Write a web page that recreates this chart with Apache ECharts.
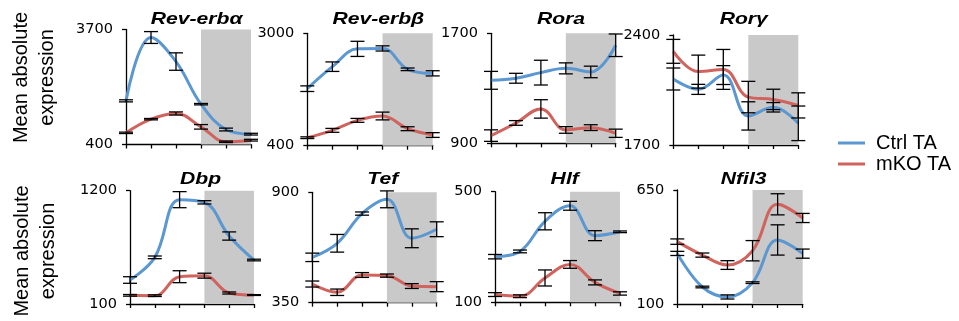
<!DOCTYPE html>
<html>
<head>
<meta charset="utf-8">
<script src="https://cdn.jsdelivr.net/npm/echarts@6/dist/echarts.min.js"></script>
<style>html,body{margin:0;padding:0;background:#fff}#c{width:959px;height:321px}</style>
</head>
<body>
<div id="c"></div>
<script>
// ---- data ----
const categories = ['1', '2', '3', '4', '5', '6'];
const genes = ['Rev-erbα', 'Rev-erbβ', 'Rora', 'Rorγ', 'Dbp', 'Tef', 'Hlf', 'Nfil3'];
const yMins = [400, 400, 900, 1700, 100, 350, 100, 100];
const yMaxs = [3700, 3000, 1700, 2400, 1200, 900, 500, 650];
const seriesNames = ['Ctrl TA', 'mKO TA'];
const shadeFrom = '4';
const shadeTo = '6';

const revErbaCtrl = [1653, 3470, 2780, 1557, 830, 697];
const revErbaCtrlErr = [30, 170, 250, 20, 40, 25];
const revErbaKO = [735, 1127, 1290, 907, 478, 524];
const revErbaKOErr = [20, 20, 45, 65, 20, 25];

const revErbbCtrl = [1719, 2228, 2640, 2650, 2167, 2074];
const revErbbCtrlErr = [65, 110, 175, 60, 30, 60];
const revErbbKO = [585, 755, 986, 1087, 793, 647];
const revErbbKOErr = [20, 45, 45, 90, 45, 55];

const roraCtrl = [1358, 1373, 1414, 1445, 1419, 1613];
const roraCtrlErr = [65, 36, 90, 40, 42, 82];
const roraKO = [956, 1048, 1150, 997, 1014, 973];
const roraKOErr = [42, 17, 67, 24, 21, 30];

const rorgCtrl = [2120, 2054, 2145, 1885, 1940, 1838];
const rorgCtrlErr = [70, 32, 60, 90, 30, 110];
const rorgKO = [2296, 2167, 2181, 2005, 1990, 1952];
const rorgKOErr = [76, 105, 127, 100, 65, 80];

const dbpCtrl = [333, 553, 1113, 1087, 760, 527];
const dbpCtrlErr = [32, 13, 78, 16, 40, 8];
const dbpKO = [184, 181, 365, 375, 207, 187];
const dbpKOErr = [8, 8, 58, 24, 10, 4];

const tefCtrl = [576, 646, 794, 865, 671, 716];
const tefCtrlErr = [21, 44, 8, 42, 47, 37];
const tefKO = [443, 402, 488, 485, 433, 430];
const tefKOErr = [15, 16, 12, 8, 12, 25];

const hlfCtrl = [265, 284, 393, 449, 341, 355];
const hlfCtrlErr = [8, 5, 31, 16, 18, 3];
const hlfKO = [128, 122, 188, 237, 172, 132];
const hlfKOErr = [7, 5, 29, 14, 9, 6];

const nfil3Ctrl = [344, 182, 134, 203, 409, 343];
const nfil3CtrlErr = [10, 4, 10, 4, 73, 22];
const nfil3KO = [401, 336, 288, 357, 581, 515];
const nfil3KOErr = [13, 10, 21, 49, 51, 22];

const ctrlMeans = [revErbaCtrl, revErbbCtrl, roraCtrl, rorgCtrl, dbpCtrl, tefCtrl, hlfCtrl, nfil3Ctrl];
const ctrlErrs = [revErbaCtrlErr, revErbbCtrlErr, roraCtrlErr, rorgCtrlErr, dbpCtrlErr, tefCtrlErr, hlfCtrlErr, nfil3CtrlErr];
const koMeans = [revErbaKO, revErbbKO, roraKO, rorgKO, dbpKO, tefKO, hlfKO, nfil3KO];
const koErrs = [revErbaKOErr, revErbbKOErr, roraKOErr, rorgKOErr, dbpKOErr, tefKOErr, hlfKOErr, nfil3KOErr];

// ---- layout / style ----
const gridBoxes = [
  [126, 29.5, 125, 115], [307.3, 33.3, 125.4, 112.4], [491, 33.3, 124.7, 110], [673.3, 35, 125, 110],
  [130, 190.7, 124, 113.3], [312.3, 192.3, 124.4, 110.4], [495, 191.7, 125, 110.6], [677.3, 190, 125.4, 114]
];
const titlePos = [[196.7, 19], [378.3, 19], [561, 19], [743.7, 19], [200.5, 179], [382.8, 179], [564.7, 179], [743.7, 179]];
const BLUE = '#5b97d1';
const RED = '#d0635d';
const SHADE = '#c9c9c9';

const grid = [], xAxis = [], yAxis = [], series = [], graphic = [];

function errRender(params, api) {
  const lo = api.coord([api.value(0), api.value(1)]);
  const hi = api.coord([api.value(0), api.value(2)]);
  const hw = 7;
  const st = { stroke: '#000', lineWidth: 1.3 };
  return {
    type: 'group',
    children: [
      { type: 'line', shape: { x1: lo[0], y1: lo[1], x2: hi[0], y2: hi[1] }, style: st },
      { type: 'line', shape: { x1: lo[0] - hw, y1: lo[1], x2: lo[0] + hw, y2: lo[1] }, style: st },
      { type: 'line', shape: { x1: hi[0] - hw, y1: hi[1], x2: hi[0] + hw, y2: hi[1] }, style: st }
    ]
  };
}

genes.forEach((g, i) => {
  const b = gridBoxes[i];
  grid.push({ left: b[0], top: b[1], width: b[2], height: b[3], containLabel: false });
  xAxis.push({
    type: 'category', gridIndex: i, data: categories, boundaryGap: false,
    axisLine: { lineStyle: { color: '#000', width: 1.3 } },
    axisTick: { show: true, length: 4, inside: false, lineStyle: { color: '#000', width: 1.3 } },
    axisLabel: { show: false }, splitLine: { show: false }
  });
  yAxis.push({
    type: 'value', gridIndex: i, min: yMins[i], max: yMaxs[i],
    axisLine: { show: true, lineStyle: { color: '#000', width: 1.3 } },
    axisTick: { show: true, length: 4, customValues: [yMins[i], yMaxs[i]], lineStyle: { color: '#000', width: 1.3 } },
    axisLabel: { show: true, customValues: [yMins[i], yMaxs[i]], formatter: v => String(v), margin: 13, color: '#000', fontSize: 14.5, fontFamily: 'DejaVu Sans' },
    splitLine: { show: false }
  });
  series.push({
    name: seriesNames[0], type: 'line', xAxisIndex: i, yAxisIndex: i, data: ctrlMeans[i],
    smooth: 0.4, symbol: 'none', color: BLUE, lineStyle: { width: 3, color: BLUE }, z: 3,
    markArea: { silent: true, itemStyle: { color: SHADE }, data: [[{ xAxis: shadeFrom }, { xAxis: shadeTo }]] }
  });
  series.push({
    name: seriesNames[1], type: 'line', xAxisIndex: i, yAxisIndex: i, data: koMeans[i],
    smooth: 0.4, symbol: 'none', color: RED, lineStyle: { width: 3, color: RED }, z: 3
  });
  [[ctrlMeans[i], ctrlErrs[i]], [koMeans[i], koErrs[i]]].forEach(([m, e], k) => {
    series.push({
      name: 'err' + i + '_' + k, type: 'custom', xAxisIndex: i, yAxisIndex: i, z: 5,
      renderItem: errRender, encode: { x: 0, y: [1, 2] },
      data: m.map((v, j) => [j, v - e[j], v + e[j]])
    });
  });
  graphic.push({
    type: 'text', x: titlePos[i][0], y: titlePos[i][1], scaleX: 1.28, scaleY: 1,
    style: { text: g, font: 'italic bold 16.5px "Liberation Sans"', fill: '#000', textAlign: 'center', textVerticalAlign: 'middle' }
  });
});

[[34, 77.5], [35, 251]].forEach(p => {
  graphic.push({
    type: 'text', x: p[0], y: p[1], rotation: Math.PI / 2,
    style: { text: 'Mean absolute\nexpression', font: '20px "Liberation Sans"', lineHeight: 26, fill: '#000', textAlign: 'center', textVerticalAlign: 'middle' }
  });
});

const chart = echarts.init(document.getElementById('c'), null, { renderer: 'canvas' });
chart.setOption({
  animation: false,
  backgroundColor: '#fff',
  grid, xAxis, yAxis, series, graphic,
  legend: {
    data: seriesNames, orient: 'vertical', left: 838, top: 133, padding: 0, itemGap: 1,
    icon: 'rect', itemWidth: 27, itemHeight: 3,
    textStyle: { fontSize: 20, fontFamily: 'Liberation Sans', color: '#000', padding: [0, 0, 0, 6] }
  }
});
</script>
</body>
</html>
